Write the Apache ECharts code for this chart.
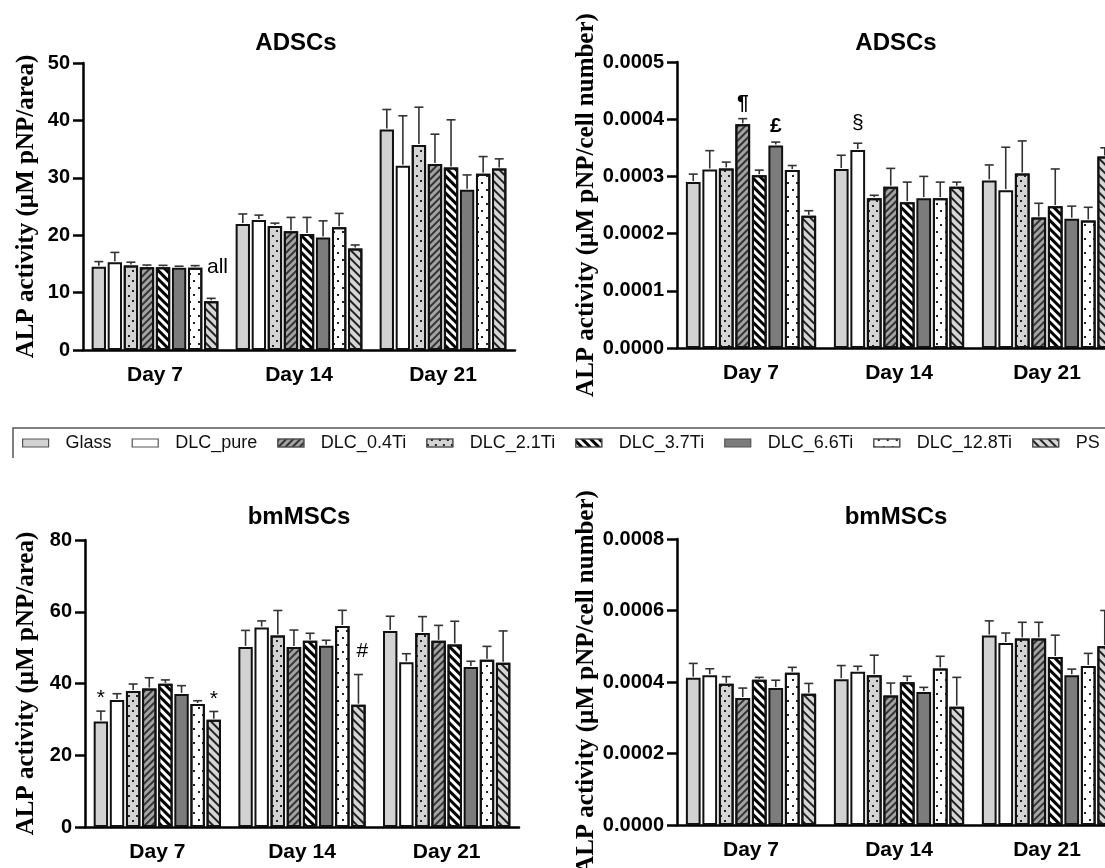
<!DOCTYPE html>
<html>
<head>
<meta charset="utf-8">
<script src="https://cdn.jsdelivr.net/npm/echarts@6/dist/echarts.min.js"></script>
<style>
  html, body { margin: 0; padding: 0; background: #fff; }
  #chart { width: 1105px; height: 868px; }
</style>
</head>
<body>
<div id="chart"></div>
<script>
const days = ['Day 7', 'Day 14', 'Day 21'];
const groups = ['Glass', 'DLC_pure', 'DLC_0.4Ti', 'DLC_2.1Ti', 'DLC_3.7Ti', 'DLC_6.6Ti', 'DLC_12.8Ti', 'PS'];
// order of the bars inside each day (differs from the legend)
const barOrder = ['Glass', 'DLC_pure', 'DLC_2.1Ti', 'DLC_0.4Ti', 'DLC_3.7Ti', 'DLC_6.6Ti', 'DLC_12.8Ti', 'PS'];

// rows follow `groups`, columns are Day 7 / Day 14 / Day 21
const adscAreaMean = [
  [14.5, 21.95, 38.4], [15.3, 22.65, 32.1], [14.4, 20.7, 32.4], [14.7, 21.6, 35.7],
  [14.4, 20.2, 31.8], [14.35, 19.6, 27.9], [14.35, 21.4, 30.7], [8.5, 17.7, 31.6]
];
const adscAreaSd = [
  [0.9, 1.75, 3.5], [1.7, 0.85, 8.7], [0.4, 2.4, 5.2], [0.6, 0.5, 6.6],
  [0.35, 2.9, 8.3], [0.25, 2.9, 2.6], [0.35, 2.4, 3.0], [0.5, 0.6, 1.7]
];
const adscCellMean = [
  [0.000290, 0.000313, 0.000293], [0.000312, 0.000346, 0.000276], [0.000391, 0.000282, 0.000228], [0.000314, 0.000262, 0.000305],
  [0.000302, 0.000255, 0.000248], [0.000354, 0.000262, 0.000226], [0.000311, 0.000262, 0.000223], [0.000231, 0.000282, 0.000335]
];
const adscCellSd = [
  [0.000014, 0.000024, 0.000027], [0.000033, 0.000012, 0.000075], [0.000010, 0.000032, 0.000025], [0.000011, 0.000005, 0.000057],
  [0.000009, 0.000035, 0.000065], [0.000006, 0.000038, 0.000022], [0.000008, 0.000028, 0.000023], [0.000009, 0.000008, 0.000015]
];
const bmscAreaMean = [
  [29.4, 50.2, 54.65], [35.4, 55.6, 45.9], [38.6, 50.2, 51.9], [37.9, 53.35, 54.1],
  [39.9, 51.9, 50.9], [37.1, 50.5, 44.6], [34.3, 56.05, 46.65], [29.9, 34.1, 45.8]
];
const bmscAreaSd = [
  [2.9, 4.6, 4.1], [1.75, 1.85, 2.4], [3.0, 4.7, 4.3], [1.95, 7.0, 4.55],
  [1.1, 2.1, 6.45], [2.3, 1.55, 1.6], [0.9, 4.35, 3.7], [2.3, 8.4, 8.85]
];
const bmscCellMean = [
  [0.000412, 0.000408, 0.000530], [0.000419, 0.000429, 0.000509], [0.000355, 0.000362, 0.000522], [0.000395, 0.000419, 0.000522],
  [0.000406, 0.000399, 0.000470], [0.000383, 0.000372, 0.000419], [0.000426, 0.000438, 0.000445], [0.000367, 0.000331, 0.000500]
];
const bmscCellSd = [
  [0.000040, 0.000038, 0.000041], [0.000018, 0.000015, 0.000028], [0.000028, 0.000035, 0.000045], [0.000020, 0.000056, 0.000045],
  [0.000007, 0.000017, 0.000061], [0.000022, 0.000013, 0.000017], [0.000015, 0.000034, 0.000035], [0.000029, 0.000082, 0.000100]
];

// significance marks: panel index, day index, group, symbol
const notes = [
  [0, 0, 'PS', 'all'],
  [1, 0, 'DLC_0.4Ti', '¶'],
  [1, 0, 'DLC_6.6Ti', '£'],
  [1, 1, 'DLC_pure', '§'],
  [2, 0, 'Glass', '*'],
  [2, 0, 'PS', '*'],
  [2, 1, 'PS', '#']
];

const SANS = 'Liberation Sans';
const SERIF = 'Liberation Serif';
const CAT_GAP = 0.12;
const BAR_GAP = 0.12;

const styles = {
  'Glass':      { color: '#d2d2d2' },
  'DLC_pure':   { color: '#ffffff' },
  'DLC_0.4Ti':  { color: '#a3a3a3', decal: { symbol: 'rect', color: '#333', dashArrayX: [1, 0], dashArrayY: [1.5, 3], rotation: -Math.PI / 4 } },
  'DLC_2.1Ti':  { color: '#d4d4d4', decal: { symbol: 'rect', color: '#222', dashArrayX: [[1.3, 5.2], [0, 3.25, 1.3, 1.95]], dashArrayY: [1.3, 3] } },
  'DLC_3.7Ti':  { color: '#ffffff', decal: { symbol: 'rect', color: '#000', dashArrayX: [1, 0], dashArrayY: [2.2, 3], rotation: Math.PI / 4 } },
  'DLC_6.6Ti':  { color: '#7c7c7c' },
  'DLC_12.8Ti': { color: '#ffffff', decal: { symbol: 'rect', color: '#222', dashArrayX: [[1.3, 6.7], [0, 4, 1.3, 2.7]], dashArrayY: [1.3, 4.5] } },
  'PS':         { color: '#d6d6d6', decal: { symbol: 'rect', color: '#222', dashArrayX: [1, 0], dashArrayY: [1.5, 3.2], rotation: Math.PI / 4 } }
};

const panels = [
  { title: 'ADSCs', mean: adscAreaMean, sd: adscAreaSd, yName: 'ALP activity (µM pNP/area)',
    max: 50, interval: 10, digits: 0, grid: { left: 83, top: 63, width: 432, height: 287 }, titleY: 31, nameGap: 44 },
  { title: 'ADSCs', mean: adscCellMean, sd: adscCellSd, yName: 'ALP activity (µM pNP/cell number)',
    max: 0.0005, interval: 0.0001, digits: 4, grid: { left: 677, top: 62, width: 444, height: 286 }, titleY: 31, nameGap: 78 },
  { title: 'bmMSCs', mean: bmscAreaMean, sd: bmscAreaSd, yName: 'ALP activity (µM pNP/area)',
    max: 80, interval: 20, digits: 0, grid: { left: 85, top: 540, width: 434, height: 287 }, titleY: 505, nameGap: 46 },
  { title: 'bmMSCs', mean: bmscCellMean, sd: bmscCellSd, yName: 'ALP activity (µM pNP/cell number)',
    max: 0.0008, interval: 0.0002, digits: 4, grid: { left: 677, top: 539, width: 444, height: 286 }, titleY: 505, nameGap: 78 }
];

function barCenter(api, day, pos) {
  const band = api.size([1, 0])[0];
  const groupW = band * (1 - CAT_GAP);
  const w = groupW / (barOrder.length + (barOrder.length - 1) * BAR_GAP);
  const cx = api.coord([day, 0])[0];
  return { x: cx - groupW / 2 + pos * w * (1 + BAR_GAP) + w / 2, w: w };
}

const grid = [], xAxis = [], yAxis = [], title = [], series = [];

panels.forEach(function (p, pi) {
  grid.push(Object.assign({ outerBoundsMode: 'none', containLabel: false }, p.grid));
  title.push({
    text: p.title, left: p.grid.left + p.grid.width / 2 - 3, top: p.titleY, textAlign: 'center', padding: 0,
    textStyle: { fontFamily: SANS, fontSize: 24, fontWeight: 'bold', color: '#000' }
  });
  xAxis.push({
    type: 'category', gridIndex: pi, data: days,
    axisLine: { lineStyle: { color: '#000', width: 2.5 } },
    axisTick: { alignWithLabel: true, length: 10, lineStyle: { color: '#000', width: 2.5 } },
    axisLabel: { fontFamily: SANS, fontSize: 21, fontWeight: 'bold', color: '#000', margin: 15 },
    splitLine: { show: false }
  });
  yAxis.push({
    type: 'value', gridIndex: pi, min: 0, max: p.max, interval: p.interval,
    name: p.yName, nameLocation: 'middle', nameGap: p.nameGap, nameRotate: 90,
    nameTextStyle: { fontFamily: SERIF, fontSize: 25, fontWeight: 'bold', color: '#000' },
    axisLine: { show: true, lineStyle: { color: '#000', width: 2.5 } },
    axisTick: { show: true, length: 10, lineStyle: { color: '#000', width: 2.5 } },
    axisLabel: {
      fontFamily: SANS, fontSize: 20, fontWeight: 'bold', color: '#000', margin: 13,
      formatter: function (v) { return v.toFixed(p.digits); }
    },
    splitLine: { show: false }
  });

  barOrder.forEach(function (g) {
    const gi = groups.indexOf(g);
    series.push({
      type: 'bar', name: g, xAxisIndex: pi, yAxisIndex: pi,
      barCategoryGap: (CAT_GAP * 100) + '%', barGap: (BAR_GAP * 100) + '%',
      data: p.mean[gi],
      itemStyle: Object.assign({ borderColor: '#111', borderWidth: 2 }, styles[g]),
      emphasis: { disabled: true }
    });
  });

  const errData = [];
  days.forEach(function (d, di) {
    barOrder.forEach(function (g, pos) {
      const gi = groups.indexOf(g);
      errData.push([di, pos, p.mean[gi][di], p.sd[gi][di]]);
    });
  });
  series.push({
    type: 'custom', xAxisIndex: pi, yAxisIndex: pi, z: 5, silent: true,
    encode: { x: 0, y: 2 },
    data: errData,
    renderItem: function (params, api) {
      const day = api.value(0), pos = api.value(1), m = api.value(2), sd = api.value(3);
      const b = barCenter(api, day, pos);
      const y0 = api.coord([day, m])[1] - 1;
      const y1 = api.coord([day, m + sd])[1];
      const st = { stroke: '#333', lineWidth: 1.6 };
      return {
        type: 'group', children: [
          { type: 'line', shape: { x1: b.x, y1: y0, x2: b.x, y2: y1 }, style: st },
          { type: 'line', shape: { x1: b.x - 4.5, y1: y1, x2: b.x + 4.5, y2: y1 }, style: st }
        ]
      };
    }
  });

  const myNotes = notes.filter(function (n) { return n[0] === pi; });
  if (myNotes.length) {
    series.push({
      type: 'custom', xAxisIndex: pi, yAxisIndex: pi, z: 6, silent: true,
      encode: { x: 0, y: 2 },
      data: myNotes.map(function (n) {
        const gi = groups.indexOf(n[2]);
        return [n[1], barOrder.indexOf(n[2]), p.mean[gi][n[1]] + p.sd[gi][n[1]]];
      }),
      renderItem: function (params, api) {
        const n = myNotes[params.dataIndex];
        const day = api.value(0), pos = api.value(1), top = api.value(2);
        const b = barCenter(api, day, pos);
        const yTop = api.coord([day, top])[1];
        const txt = n[3];
        if (txt === 'all') {
          return { type: 'text', x: b.x - b.w / 2 + 3, y: yTop - 31,
            style: { text: txt, fontFamily: SANS, fontSize: 21, fill: '#000', align: 'left', verticalAlign: 'middle' } };
        }
        const extra = { '#': 9, '§': 6, '*': -2, '¶': 1, '£': 1 }[txt] || 0;
        return { type: 'text', x: b.x + (txt === '#' ? 4 : 0), y: yTop - 4 - extra,
          style: { text: txt, fontFamily: SANS, fontSize: 21, fontWeight: (txt === '£' || txt === '¶') ? 'bold' : 'normal',
            fill: '#000', align: 'center', verticalAlign: 'bottom' } };
      }
    });
  }
});

const chart = echarts.init(document.getElementById('chart'), null, { renderer: 'canvas' });
chart.setOption({
  backgroundColor: '#fff',
  animation: false,
  title: title,
  legend: {
    data: groups, left: 22, top: 434, padding: 0, itemGap: 20,
    itemWidth: 26, itemHeight: 8, icon: 'rect', selectedMode: false,
    itemStyle: { borderColor: '#555', borderWidth: 1.2 },
    formatter: function (name) { return '{g| }' + name; },
    textStyle: { fontFamily: SANS, fontSize: 18, color: '#111', rich: { g: { width: 12 } } }
  },
  graphic: [
    { type: 'polyline', silent: true, shape: { points: [[13, 458], [13, 428], [1105, 428]] },
      style: { stroke: '#555', lineWidth: 1.5, fill: null } }
  ],
  grid: grid,
  xAxis: xAxis,
  yAxis: yAxis,
  series: series
});
</script>
</body>
</html>
